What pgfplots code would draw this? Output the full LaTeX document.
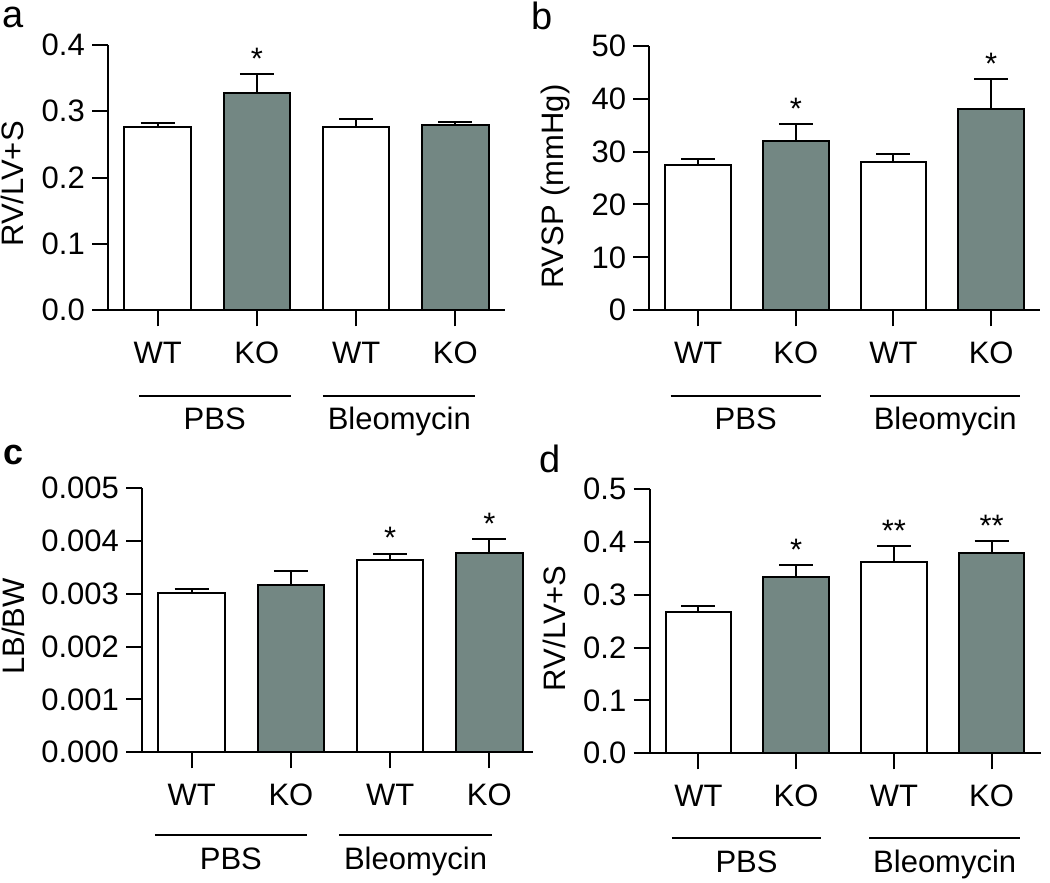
\documentclass[border=0pt]{standalone}
\usepackage{fontspec}
\setmainfont{Liberation Sans}
\usepackage{pgfplots}
\pgfplotsset{compat=1.18}
\definecolor{barg}{RGB}{115,135,131}
\newcommand{\fs}{\fontsize{31}{37}\selectfont}
\pgfplotsset{
  mystyle/.style={
    scale only axis,
    anchor=south west,
    axis x line*=bottom, axis y line*=left,
    axis line style={line width=2pt, black},
    tick align=outside,
    major tick length=16pt,
    every tick/.style={line width=2pt, black},
    xmin=-0.5, xmax=3.5, ymin=0,
    xtick={0,1,2,3}, xticklabels={WT,KO,WT,KO},
    tick label style={font=\fs},
    xticklabel style={anchor=base, yshift=-37pt},
    yticklabel style={anchor=east, inner sep=0pt, xshift=-7pt},
    /pgf/number format/assume math mode=true,
    scaled y ticks=false,
    ybar, bar shift=0pt, bar width=0.668,
    clip=false,
  },
  wbar/.style={fill=white, draw=black, line width=2pt,
    error bars/.cd, y dir=plus, y explicit,
    error bar style={line width=2pt, black},
    error mark options={line width=2pt, black, mark size=17pt, rotate=90}},
  gbar/.style={fill=barg, draw=black, line width=2pt,
    error bars/.cd, y dir=plus, y explicit,
    error bar style={line width=2pt, black},
    error mark options={line width=2pt, black, mark size=17pt, rotate=90}},
  ylab/.style 2 args={every axis y label/.style={at={(axis description cs:#1,#2)}, rotate=90, anchor=base, font=\fs}},
}
\begin{document}
\begin{tikzpicture}[x=1pt,y=1pt]
\path[use as bounding box] (0,0) rectangle (1050,883);
\node[anchor=base west, inner sep=0pt, font=\fontsize{38}{40}\selectfont] at (2,855) {a};
\node[anchor=base west, inner sep=0pt, font=\fontsize{38}{40}\selectfont] at (531,853) {b};
\node[anchor=base west, inner sep=0pt, font=\bfseries\fontsize{36}{40}\selectfont] at (3,418) {c};
\node[anchor=base west, inner sep=0pt, font=\fontsize{38}{40}\selectfont] at (539,410) {d};

% panel a
\begin{axis}[mystyle, at={(108pt,572.7pt)}, width=397pt, height=265.3pt,
  ymax=0.4, ytick={0,0.1,0.2,0.3,0.4},
  yticklabel style={/pgf/number format/.cd, fixed, fixed zerofill, precision=1},
  ylab={-0.212}{0.476}, ylabel={RV/LV+S}]
\addplot[wbar] coordinates {(0,0.2759) +- (0,0.0065) (2,0.2769) +- (0,0.011)};
\addplot[gbar] coordinates {(1,0.3271) +- (0,0.0287) (3,0.2789) +- (0,0.0055)};
\node[anchor=base, font=\fs, yshift=5pt] at (axis cs:1,0.3558) {*};
\draw[line width=2pt] ([yshift=-85.4pt]axis cs:-0.184,0) -- ([yshift=-85.4pt]axis cs:1.346,0);
\draw[line width=2pt] ([yshift=-85.4pt]axis cs:1.665,0) -- ([yshift=-85.4pt]axis cs:3.198,0);
\node[anchor=base, font=\fs] at ([yshift=-119.7pt]axis cs:0.575,0) {PBS};
\node[anchor=base, font=\fs] at ([yshift=-119.7pt]axis cs:2.435,0) {Bleomycin};
\end{axis}

% panel b
\begin{axis}[mystyle, at={(649.3pt,572.7pt)}, width=390.7pt, height=264.6pt,
  ymax=50, ytick={0,10,20,30,40,50}, bar width=0.67,
  ylab={-0.220}{0.467}, ylabel={RVSP (mmHg)}]
\addplot[wbar] coordinates {(0,27.5) +- (0,1.0) (2,28.1) +- (0,1.4)};
\addplot[gbar] coordinates {(1,32.0) +- (0,3.2) (3,38.0) +- (0,5.7)};
\node[anchor=base, font=\fs, yshift=5pt] at (axis cs:1,35.2) {*};
\node[anchor=base, font=\fs, yshift=5pt] at (axis cs:3,43.7) {*};
\draw[line width=2pt] ([yshift=-85.4pt]axis cs:-0.283,0) -- ([yshift=-85.4pt]axis cs:1.256,0);
\draw[line width=2pt] ([yshift=-85.4pt]axis cs:1.758,0) -- ([yshift=-85.4pt]axis cs:3.30,0);
\node[anchor=base, font=\fs] at ([yshift=-119.7pt]axis cs:0.487,0) {PBS};
\node[anchor=base, font=\fs] at ([yshift=-119.7pt]axis cs:2.53,0) {Bleomycin};
\end{axis}

% panel c
\begin{axis}[mystyle, at={(142.1pt,130.7pt)}, width=390.7pt, height=264pt,
  xmax=3.438, bar width=0.67,
  ymax=0.005, ytick={0,0.001,0.002,0.003,0.004,0.005},
  yticklabel style={/pgf/number format/.cd, fixed, fixed zerofill, precision=3},
  ylab={-0.300}{0.476}, ylabel={LB/BW}]
\addplot[wbar] coordinates {(0,0.003018) +- (0,0.000075) (2,0.003636) +- (0,0.000127)};
\addplot[gbar] coordinates {(1,0.003176) +- (0,0.000265) (3,0.00378) +- (0,0.000254)};
\node[anchor=base, font=\fs, yshift=5pt] at (axis cs:2,0.003763) {*};
\node[anchor=base, font=\fs, yshift=5pt] at (axis cs:3,0.004034) {*};
\draw[line width=2pt] ([yshift=-82.7pt]axis cs:-0.37,0) -- ([yshift=-82.7pt]axis cs:1.16,0);
\draw[line width=2pt] ([yshift=-82.7pt]axis cs:1.488,0) -- ([yshift=-82.7pt]axis cs:3.024,0);
\node[anchor=base, font=\fs] at ([yshift=-117.7pt]axis cs:0.395,0) {PBS};
\node[anchor=base, font=\fs] at ([yshift=-117.7pt]axis cs:2.256,0) {Bleomycin};
\end{axis}

% panel d
\begin{axis}[mystyle, at={(649.5pt,129.7pt)}, width=391pt, height=264.3pt,
  ymax=0.5, ytick={0,0.1,0.2,0.3,0.4,0.5}, bar width=0.67,
  yticklabel style={/pgf/number format/.cd, fixed, fixed zerofill, precision=1},
  ylab={-0.216}{0.473}, ylabel={RV/LV+S}]
\addplot[wbar] coordinates {(0,0.2667) +- (0,0.0123) (2,0.362) +- (0,0.0296)};
\addplot[gbar] coordinates {(1,0.333) +- (0,0.0226) (3,0.3796) +- (0,0.022)};
\node[anchor=base, font=\fs, yshift=5pt] at (axis cs:1,0.3556) {*};
\node[anchor=base, font=\fs, yshift=5pt] at (axis cs:2,0.3916) {**};
\node[anchor=base, font=\fs, yshift=5pt] at (axis cs:3,0.4016) {**};
\draw[line width=2pt] ([yshift=-85pt]axis cs:-0.272,0) -- ([yshift=-85pt]axis cs:1.258,0);
\draw[line width=2pt] ([yshift=-85pt]axis cs:1.75,0) -- ([yshift=-85pt]axis cs:3.294,0);
\node[anchor=base, font=\fs] at ([yshift=-119.7pt]axis cs:0.493,0) {PBS};
\node[anchor=base, font=\fs] at ([yshift=-119.7pt]axis cs:2.52,0) {Bleomycin};
\end{axis}
\end{tikzpicture}
\end{document}
